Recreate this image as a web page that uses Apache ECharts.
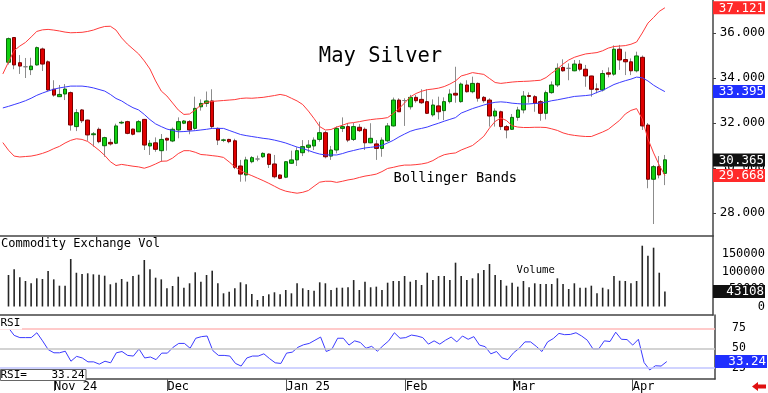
<!DOCTYPE html>
<html><head><meta charset="utf-8">
<script src="https://cdn.jsdelivr.net/npm/echarts@6/dist/echarts.min.js"></script>
<style>html,body{margin:0;padding:0;background:#fff}#c{width:768px;height:393px}</style>
</head><body><div id="c"></div>
<script>
// trading days (first one is the hidden prior day whose band values start at the left edge)
const dates = ['2024-10-21','2024-10-22','2024-10-23','2024-10-24','2024-10-25','2024-10-28','2024-10-29','2024-10-30','2024-10-31',
'2024-11-01','2024-11-04','2024-11-05','2024-11-06','2024-11-07','2024-11-08','2024-11-11','2024-11-12','2024-11-13','2024-11-14','2024-11-15','2024-11-18','2024-11-19','2024-11-20','2024-11-21','2024-11-22','2024-11-25','2024-11-26','2024-11-27','2024-11-29',
'2024-12-02','2024-12-03','2024-12-04','2024-12-05','2024-12-06','2024-12-09','2024-12-10','2024-12-11','2024-12-12','2024-12-13','2024-12-16','2024-12-17','2024-12-18','2024-12-19','2024-12-20','2024-12-23','2024-12-24','2024-12-26','2024-12-27','2024-12-30','2024-12-31',
'2025-01-02','2025-01-03','2025-01-06','2025-01-07','2025-01-08','2025-01-09','2025-01-10','2025-01-13','2025-01-14','2025-01-15','2025-01-16','2025-01-17','2025-01-21','2025-01-22','2025-01-23','2025-01-24','2025-01-27','2025-01-28','2025-01-29','2025-01-30','2025-01-31',
'2025-02-03','2025-02-04','2025-02-05','2025-02-06','2025-02-07','2025-02-10','2025-02-11','2025-02-12','2025-02-13','2025-02-14','2025-02-18','2025-02-19','2025-02-20','2025-02-21','2025-02-24','2025-02-25','2025-02-26','2025-02-27','2025-02-28',
'2025-03-03','2025-03-04','2025-03-05','2025-03-06','2025-03-07','2025-03-10','2025-03-11','2025-03-12','2025-03-13','2025-03-14','2025-03-17','2025-03-18','2025-03-19','2025-03-20','2025-03-21','2025-03-24','2025-03-25','2025-03-26','2025-03-27','2025-03-28','2025-03-31',
'2025-04-01','2025-04-02','2025-04-03','2025-04-04','2025-04-07','2025-04-08','2025-04-09'];
const futureDates = ['2025-04-10','2025-04-11','2025-04-14','2025-04-15','2025-04-16','2025-04-17','2025-04-21','2025-04-22'];

const tickDates = ['2024-11-01','2024-12-02','2025-01-02','2025-02-03','2025-03-03','2025-04-01'];
const tickLabels = ['Nov 24','Dec','Jan 25','Feb','Mar','Apr'];

// candles (from 2024-10-22)
const open = [34.7,35.8,34.68,34.5,34.37,34.58,35.29,34.72,33.5,33.17,
33.29,33.35,31.84,32.58,32.13,31.48,31.72,30.99,31.14,31.1,
32.0,32.06,31.73,31.61,32.16,30.98,31.12,30.77,31.32,31.2,
31.69,31.99,32.06,31.76,32.72,32.87,32.98,31.76,31.23,31.27,
31.21,30.09,29.69,30.28,30.4,30.5,30.62,30.18,29.69,29.59,
30.21,30.36,30.68,30.92,30.98,31.27,31.57,30.53,30.8,31.76,
31.84,31.27,31.81,31.72,31.12,31.07,30.87,31.21,31.87,33.02,
33.0,32.72,33.14,33.05,32.95,32.36,32.76,32.55,32.95,33.32,
32.95,33.69,33.39,33.76,33.14,33.02,32.31,32.5,31.84,31.72,
32.25,32.58,33.22,33.17,32.95,32.43,33.35,33.69,34.47,34.43,
34.32,34.62,34.39,34.09,33.52,33.47,34.23,34.17,35.28,34.82,
34.72,34.32,34.92,31.91,29.5,30.06,29.76];
const close = [35.75,34.58,34.53,34.5,34.53,35.35,34.62,33.47,33.24,33.27,
33.51,31.91,32.46,32.1,31.47,31.52,31.17,31.35,31.07,31.87,
32.03,31.54,31.5,32.06,31.02,31.1,30.83,31.27,31.24,31.72,
32.06,32.09,31.69,32.65,32.87,32.98,31.84,31.24,31.25,31.17,
30.03,29.73,30.36,30.46,30.4,30.65,30.16,29.61,29.54,30.28,
30.36,30.77,30.95,31.02,31.24,31.57,30.5,30.8,31.76,31.84,
31.24,31.84,31.66,31.12,31.32,30.87,31.24,31.87,33.02,32.5,
33.0,33.14,32.99,32.9,32.43,32.8,32.5,32.95,33.29,33.24,
33.73,33.39,33.76,33.1,32.99,32.31,32.53,31.84,31.69,32.25,
32.58,33.2,33.18,32.87,32.43,33.35,33.69,34.43,34.32,34.43,
34.62,34.39,34.09,33.5,33.48,34.2,34.17,35.28,34.8,34.72,
34.32,34.98,31.87,29.5,30.06,29.69,30.365];
const low = [34.6,34.39,34.18,34.0,34.13,34.55,34.31,33.43,33.17,33.17,
33.02,31.66,31.64,32.0,31.21,30.95,31.1,30.5,31.0,31.06,
31.95,31.5,31.45,31.6,30.8,30.58,30.72,30.28,30.77,31.15,
31.32,31.95,31.5,31.7,32.55,32.72,31.76,31.02,31.15,31.1,
29.95,29.39,29.4,30.21,30.3,30.45,30.0,29.54,29.5,29.55,
30.18,30.09,30.53,30.7,30.8,31.17,30.43,30.36,30.65,31.6,
31.15,31.2,31.6,30.8,31.1,30.36,30.5,31.15,31.84,32.5,
31.87,32.6,32.9,32.85,32.4,32.28,32.16,32.13,32.87,32.9,
32.9,33.35,33.32,32.95,32.9,31.84,31.84,31.69,31.32,31.69,
32.1,32.43,32.9,32.5,32.1,32.16,33.3,33.6,34.28,33.9,
34.3,34.3,33.61,33.17,33.32,33.4,34.03,34.1,34.36,34.13,
34.13,34.25,31.69,29.1,27.51,29.54,29.24];
const high = [35.8,35.82,35.02,34.89,34.9,35.4,35.35,34.78,33.9,33.69,
33.73,33.4,32.62,32.62,32.15,31.6,31.8,31.39,31.3,31.97,
32.1,32.1,31.75,32.13,32.18,31.24,31.36,31.51,31.35,31.8,
32.25,32.13,32.13,33.17,33.05,33.4,33.5,31.8,31.3,31.3,
31.3,30.36,30.5,30.53,30.55,30.7,30.65,30.58,29.72,30.3,
30.77,30.92,31.24,31.24,31.36,32.06,31.65,30.98,31.85,32.25,
32.0,32.0,31.95,31.8,31.99,31.24,31.36,32.0,33.13,33.1,
33.1,33.25,33.25,33.5,33.5,33.05,33.17,33.14,33.5,34.5,
33.8,33.9,34.06,33.8,33.2,33.1,32.65,32.55,31.91,32.4,
32.72,33.42,33.36,33.24,33.02,33.44,33.85,34.65,34.83,34.65,
34.8,34.8,34.58,34.1,33.76,34.35,34.47,35.45,35.47,35.17,
34.87,35.17,35.0,32.0,30.13,30.53,30.58];
const volume = [90500,106900,83900,73300,66700,81000,79000,102000,78000,59800,
59800,136500,97000,93400,95400,92500,91400,88500,63800,68400,
79000,71300,87600,91400,133600,106900,82800,78000,52300,58900,
85600,54000,66700,98300,71300,90500,102900,66700,37900,42500,
52300,69500,63800,35900,18700,30200,35000,40800,35000,47400,
37900,66700,52300,47400,45400,69500,66700,47400,54000,54000,
55200,76000,47400,71300,55200,57000,47400,68400,73300,73300,
87600,71300,76100,61800,97100,76100,87600,87600,76100,125900,
87600,76100,81000,95400,104900,122100,90500,76100,59800,68400,
57000,73300,55200,66700,64600,64600,64600,81000,64600,50300,
66700,54000,54000,59800,37900,54000,49400,87600,74100,73300,
66700,73300,174700,146000,169000,97100,43108];
const rsi = [75.6,66.2,63.4,63.4,63.4,69.5,59.3,48.3,44.3,44.3,
46.3,33.7,39.8,37.8,32.9,32.9,30.0,33.7,31.7,44.3,
45.9,41.0,40.2,49.1,37.8,39.0,35.7,43.9,43.9,51.2,
56.1,56.1,50.0,62.6,64.6,65.4,47.1,41.0,41.0,40.2,
30.9,27.6,37.8,40.2,40.2,43.0,37.0,31.7,30.9,43.9,
45.1,51.2,54.4,56.1,60.1,64.1,45.9,49.1,62.6,62.6,
54.0,59.3,57.3,50.0,52.4,46.3,53.2,59.3,69.5,62.6,
63.4,66.6,65.4,63.4,55.2,59.3,55.2,60.1,64.1,58.0,
65.4,61.3,64.6,54.0,52.0,43.0,45.9,37.8,35.7,44.3,
50.0,58.0,58.0,52.4,45.9,58.0,62.2,68.7,67.1,67.4,
69.5,65.4,60.1,49.1,49.1,59.3,58.5,70.2,61.3,60.9,
54.0,61.3,32.1,22.7,28.0,27.6,33.24];
// Bollinger bands (from the hidden prior day 2024-10-21)
const bbUpper = [34.18,
34.71,35.22,35.42,35.58,35.82,36.07,36.14,36.16,36.13,36.09,
36.04,36.01,36.02,36.03,36.07,36.13,36.22,36.29,36.30,36.13,
35.78,35.51,35.29,35.07,34.76,34.40,33.87,33.42,33.20,32.89,
32.58,32.38,32.40,32.58,32.80,32.91,32.96,32.98,33.00,33.02,
33.04,33.09,33.11,33.10,33.12,33.14,33.18,33.22,33.27,33.22,
33.10,32.98,32.82,32.53,32.20,31.84,31.69,31.71,31.82,31.90,
31.99,32.02,32.06,32.11,32.15,32.18,32.20,32.24,32.42,32.64,
32.89,33.16,33.31,33.41,33.48,33.51,33.55,33.62,33.73,33.87,
34.09,34.16,34.24,34.20,34.16,33.98,33.80,33.76,33.79,33.82,
33.84,33.85,33.86,33.88,33.90,34.02,34.22,34.40,34.62,34.80,
34.92,35.00,35.07,35.10,35.13,35.21,35.33,35.40,35.42,35.44,
35.50,35.60,36.00,36.44,36.69,36.96,37.121];
const bbMid = [32.67,
32.74,32.82,32.90,32.99,33.10,33.23,33.33,33.42,33.50,33.56,
33.60,33.64,33.64,33.64,33.61,33.56,33.49,33.42,33.27,33.09,
32.98,32.82,32.68,32.58,32.38,32.15,31.96,31.84,31.73,31.67,
31.61,31.62,31.64,31.66,31.69,31.72,31.76,31.76,31.76,31.67,
31.58,31.49,31.44,31.40,31.36,31.32,31.29,31.24,31.18,31.11,
31.02,30.93,30.87,30.78,30.69,30.62,30.58,30.58,30.58,30.64,
30.72,30.78,30.84,30.89,30.92,30.95,31.01,31.11,31.23,31.38,
31.51,31.63,31.71,31.76,31.82,31.91,31.99,32.08,32.16,32.24,
32.44,32.54,32.64,32.72,32.80,32.87,32.92,32.94,32.92,32.88,
32.86,32.84,32.85,32.87,32.88,32.93,32.99,33.03,33.08,33.13,
33.18,33.20,33.22,33.25,33.36,33.45,33.58,33.71,33.80,33.88,
33.95,34.04,34.01,33.87,33.68,33.53,33.395];
const bbLower = [31.13,
30.79,30.53,30.49,30.51,30.53,30.58,30.65,30.74,30.86,30.96,
31.11,31.23,31.30,31.27,31.18,30.99,30.79,30.56,30.28,30.11,
30.16,30.12,30.08,30.05,29.99,30.07,30.18,30.30,30.31,30.44,
30.64,30.77,30.77,30.70,30.60,30.58,30.55,30.52,30.47,30.27,
30.05,29.88,29.76,29.66,29.55,29.44,29.32,29.19,29.06,28.97,
28.92,28.88,28.92,29.00,29.19,29.37,29.41,29.41,29.36,29.41,
29.47,29.51,29.58,29.64,29.68,29.73,29.84,29.98,30.03,30.09,
30.13,30.13,30.15,30.18,30.23,30.33,30.48,30.59,30.64,30.67,
30.80,30.90,31.00,31.20,31.41,31.77,32.07,32.22,32.11,31.88,
31.82,31.80,31.80,31.81,31.81,31.80,31.74,31.67,31.56,31.49,
31.45,31.42,31.40,31.40,31.50,31.60,31.72,31.92,32.12,32.40,
32.56,32.64,32.18,31.29,30.67,30.13,29.668];

// ---------- build ----------
const cats = dates.concat(futureDates);
const tail = futureDates.map(() => '-');
const wrap = a => ['-'].concat(a, tail);
const wickData = wrap(open.map((o, i) => [o, close[i], low[i], high[i]]));
const bodyData = wrap(open.map((o, i) => [o, close[i], Math.min(o, close[i]), Math.max(o, close[i])]));
const volData = wrap(volume);
const rsiData = wrap(rsi);
const last = a => a[a.length - 1];

const MONO = '"DejaVu Sans Mono", "Liberation Mono", monospace';
const isTick = (idx, val) => tickDates.indexOf(val) >= 0;
const HIDDEN = { color: 'rgba(0,0,0,0)', width: 1, type: 'solid' };

function boxLabel(text, bg) {
  return {
    show: true, position: 'end', distance: 0,
    formatter: '{a|' + text + '}',
    backgroundColor: bg, padding: [1, 1, 0, 2],
    rich: { a: { width: 49, align: 'right', color: '#fff', fontFamily: MONO, fontSize: 12.5, lineHeight: 12 } }
  };
}
function boxLine(value, text, bg) {
  return {
    silent: true, symbol: ['none', 'none'], animation: false,
    data: [{ yAxis: value, lineStyle: HIDDEN, label: boxLabel(text, bg) }]
  };
}

const G = { left: -4.5, width: 719.5 };
const axisLineStyle = { color: '#444', width: 1.5 };

const option = {
  animation: false,
  backgroundColor: '#fff',
  grid: [
    { left: G.left, width: G.width, top: 0, height: 236 },
    { left: G.left, width: G.width, top: 236, height: 79 },
    { left: G.left, width: G.width, top: 315, height: 66 }
  ],
  xAxis: [0, 1, 2].map(g => ({
    type: 'category', gridIndex: g, data: cats, boundaryGap: true,
    axisLine: { show: true, onZero: false, lineStyle: axisLineStyle },
    axisTick: g === 2 ? { show: true, interval: isTick, alignWithLabel: true, length: 12, lineStyle: { color: '#555' } } : { show: false },
    axisLabel: g === 2 ? {
      show: true, interval: isTick, align: 'left', margin: 2, padding: [0, 0, 0, 0],
      formatter: v => tickLabels[tickDates.indexOf(v)] || '',
      fontFamily: MONO, fontSize: 12, color: '#000'
    } : { show: false },
    splitLine: { show: false }
  })),
  yAxis: [
    {
      gridIndex: 0, type: 'value', position: 'right', min: 26.978, max: 37.4667,
      axisLine: { show: true, lineStyle: axisLineStyle },
      axisTick: { show: true, length: 3, lineStyle: { color: '#444' } },
      splitLine: { show: false },
      axisLabel: {
        show: true, align: 'right', margin: 52, showMinLabel: false, showMaxLabel: false,
        formatter: v => Math.abs(v / 2 - Math.round(v / 2)) < 1e-6 ? v.toFixed(3) : '',
        fontFamily: MONO, fontSize: 12.5, color: '#000'
      }
    },
    {
      gridIndex: 1, type: 'value', position: 'right', min: -24425, max: 202586,
      axisLine: { show: true, lineStyle: axisLineStyle },
      axisTick: { show: false }, splitLine: { show: false },
      axisLabel: {
        show: true, align: 'right', margin: 52, showMinLabel: false, showMaxLabel: false,
        formatter: v => (v >= 0 && v <= 150000 && v % 50000 === 0) ? String(v) : '',
        fontFamily: MONO, fontSize: 12, color: '#000'
      }
    },
    {
      gridIndex: 2, type: 'value', position: 'right', min: 11.34, max: 91.83,
      axisLine: { show: true, lineStyle: axisLineStyle },
      axisTick: { show: false }, splitLine: { show: false }, axisLabel: { show: false }
    }
  ],
  series: [
    {
      name: 'wick', type: 'candlestick', xAxisIndex: 0, yAxisIndex: 0, data: wickData, barWidth: 1,
      itemStyle: { color: '#8c8c8c', color0: '#8c8c8c', borderColor: '#8c8c8c', borderColor0: '#8c8c8c', borderColorDoji: '#8c8c8c', borderWidth: 1 }
    },
    {
      name: 'body', type: 'candlestick', xAxisIndex: 0, yAxisIndex: 0, data: bodyData, barWidth: 4,
      itemStyle: { color: '#10d010', color0: '#e00000', borderColor: '#0a6a0a', borderColor0: '#7a0000', borderColorDoji: '#808080', borderWidth: 1 },
      markLine: boxLine(last(close), last(close).toFixed(3), '#111')
    },
    {
      name: 'upper', type: 'line', xAxisIndex: 0, yAxisIndex: 0, data: bbUpper, symbol: 'none',
      lineStyle: { color: '#ff3b3b', width: 1 },
      markLine: boxLine(last(bbUpper), last(bbUpper).toFixed(3), '#ff2a2a')
    },
    {
      name: 'mid', type: 'line', xAxisIndex: 0, yAxisIndex: 0, data: bbMid, symbol: 'none',
      lineStyle: { color: '#3b3bff', width: 1 },
      markLine: boxLine(last(bbMid), last(bbMid).toFixed(3), '#1f2fff')
    },
    {
      name: 'lower', type: 'line', xAxisIndex: 0, yAxisIndex: 0, data: bbLower, symbol: 'none',
      lineStyle: { color: '#ff3b3b', width: 1 },
      markLine: boxLine(last(bbLower), last(bbLower).toFixed(3), '#ff2a2a')
    },
    {
      name: 'volume', type: 'bar', xAxisIndex: 1, yAxisIndex: 1, data: volData, barWidth: 1.6,
      itemStyle: { color: '#262626' },
      markLine: boxLine(last(volume), String(last(volume)), '#111')
    },
    {
      name: 'rsi', type: 'line', xAxisIndex: 2, yAxisIndex: 2, data: rsiData, symbol: 'none',
      lineStyle: { color: '#3b3bff', width: 1 },
      markLine: {
        silent: true, symbol: ['none', 'none'],
        data: [
          { yAxis: 75, lineStyle: { color: '#ffb8b8', width: 1.5, type: 'solid' }, label: { show: true, position: 'end', distance: 17, formatter: '75', color: '#000', fontFamily: MONO, fontSize: 11.5 } },
          { yAxis: 50, lineStyle: { color: '#c4c4c4', width: 1.5, type: 'solid' }, label: { show: true, position: 'end', distance: 17, formatter: '50', color: '#000', fontFamily: MONO, fontSize: 11.5 } },
          { yAxis: 25, lineStyle: { color: '#c0c4ff', width: 1.5, type: 'solid' }, label: { show: true, position: 'end', distance: 17, formatter: '25', color: '#000', fontFamily: MONO, fontSize: 11.5 } },
          { yAxis: last(rsi), lineStyle: HIDDEN, label: boxLabel(last(rsi).toFixed(2), '#1f2fff') }
        ]
      }
    }
  ],
  graphic: [
    { type: 'text', z: 100, x: 380.5, y: 57, style: { text: 'May Silver', font: '20.5px ' + MONO, fill: '#000', textAlign: 'center', textVerticalAlign: 'middle' } },
    { type: 'text', z: 100, x: 393.5, y: 178, style: { text: 'Bollinger Bands', font: '13.7px ' + MONO, fill: '#000', textAlign: 'left', textVerticalAlign: 'middle' } },
    { type: 'text', z: 100, x: 516.5, y: 270.3, style: { text: 'Volume', font: '10.6px ' + MONO, fill: '#000', textAlign: 'left', textVerticalAlign: 'middle' } },
    { type: 'text', z: 100, x: 1, y: 243.8, style: { text: 'Commodity Exchange Vol', font: '12px ' + MONO, fill: '#000', textAlign: 'left', textVerticalAlign: 'middle' } },
    { type: 'rect', z: 99, shape: { x: 0, y: 316.5, width: 22, height: 13 }, style: { fill: '#fff' } },
    { type: 'text', z: 100, x: 0.5, y: 323, style: { text: 'RSI', font: '11px ' + MONO, fill: '#000', textAlign: 'left', textVerticalAlign: 'middle' } },
    { type: 'rect', z: 99, shape: { x: 0.5, y: 369.5, width: 85.5, height: 11 }, style: { fill: '#fff', stroke: '#666', lineWidth: 1 } },
    { type: 'text', z: 100, x: 0.5, y: 375, style: { text: 'RSI=', font: '11px ' + MONO, fill: '#000', textAlign: 'left', textVerticalAlign: 'middle' } },
    { type: 'text', z: 100, x: 84.5, y: 375, style: { text: last(rsi).toFixed(2), font: '11px ' + MONO, fill: '#000', textAlign: 'right', textVerticalAlign: 'middle' } },
    { type: 'polygon', z: 100, shape: { points: [[752, 386.5], [758, 382], [758, 384.5], [766, 384.5], [766, 388.5], [758, 388.5], [758, 391]] }, style: { fill: '#e01010' } }
  ]
};

const chart = echarts.init(document.getElementById('c'), null, { renderer: 'canvas' });
chart.setOption(option);
</script>
</body></html>
